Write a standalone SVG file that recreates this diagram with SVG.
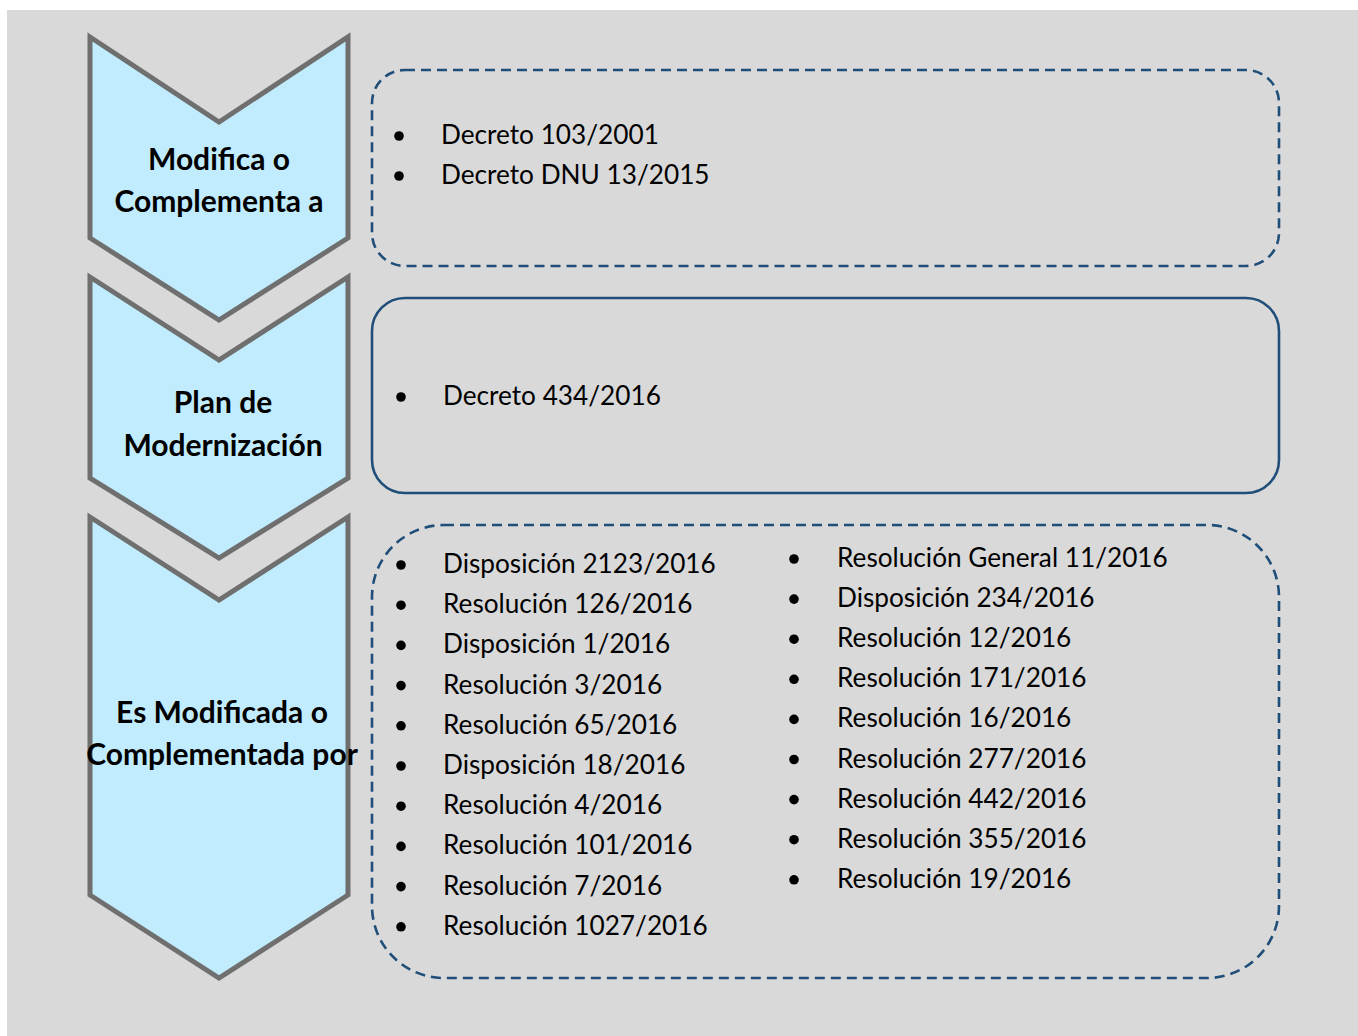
<svg xmlns="http://www.w3.org/2000/svg" width="1358" height="1036" viewBox="0 0 1358 1036">
<style>
.chev{fill:#c0ecfd;stroke:#6f6f6f;stroke-width:5;stroke-linejoin:miter}
.box{fill:none;stroke:#1f4e79;stroke-width:2.6}
.dash{stroke-dasharray:10 6}
.lbl{font-family:Lato,"Liberation Sans",sans-serif;font-weight:bold;font-size:30px;fill:#000;text-anchor:middle}
.it{font-family:Lato,"Liberation Sans",sans-serif;font-size:26.2px;fill:#000}
.bul{fill:#000}
</style>
<rect x="7" y="10" width="1351" height="1026" fill="#d9d9d9"/>
<g id="connectors"></g>
<g id="chevron1">
<polygon class="chev" points="90,37 219,122 348,37 348,238 219,320 90,238"/>
<text class="lbl" x="219" y="170">Modifica o</text>
<text class="lbl" x="219" y="212">Complementa a</text>
</g>
<g id="chevron2">
<polygon class="chev" points="90,277 219,360 348,277 348,478 219,558 90,478"/>
<text class="lbl" x="223" y="413">Plan de</text>
<text class="lbl" x="223" y="456">Modernización</text>
</g>
<g id="chevron3">
<polygon class="chev" points="90,517 219,600 348,517 348,895 219,978 90,895"/>
<text class="lbl" x="222" y="723">Es Modificada o</text>
<text class="lbl" x="222" y="765">Complementada por</text>
</g>
<g id="box1">
<rect class="box dash" x="372" y="70" width="907" height="196" rx="33" ry="33"/>
<circle class="bul" cx="399" cy="136" r="4.8"/>
<circle class="bul" cx="399" cy="176" r="4.8"/>
<text class="it" x="441" y="144">Decreto 103/2001</text>
<text class="it" x="441" y="184">Decreto DNU 13/2015</text>
</g>
<g id="box2">
<rect class="box" x="372" y="298" width="907" height="195" rx="33" ry="33"/>
<circle class="bul" cx="401" cy="397" r="4.8"/>
<text class="it" x="443" y="405">Decreto 434/2016</text>
</g>
<g id="box3">
<rect class="box dash" x="372" y="525" width="907" height="453" rx="72" ry="72"/>
<g class="bul">
<circle cx="401" cy="565" r="4.8"/>
<circle cx="401" cy="605.2" r="4.8"/>
<circle cx="401" cy="645.4" r="4.8"/>
<circle cx="401" cy="685.6" r="4.8"/>
<circle cx="401" cy="725.8" r="4.8"/>
<circle cx="401" cy="766" r="4.8"/>
<circle cx="401" cy="806.2" r="4.8"/>
<circle cx="401" cy="846.4" r="4.8"/>
<circle cx="401" cy="886.6" r="4.8"/>
<circle cx="401" cy="926.8" r="4.8"/>
<circle cx="794" cy="559" r="4.8"/>
<circle cx="794" cy="599.1" r="4.8"/>
<circle cx="794" cy="639.2" r="4.8"/>
<circle cx="794" cy="679.3" r="4.8"/>
<circle cx="794" cy="719.4" r="4.8"/>
<circle cx="794" cy="759.5" r="4.8"/>
<circle cx="794" cy="799.6" r="4.8"/>
<circle cx="794" cy="839.7" r="4.8"/>
<circle cx="794" cy="879.8" r="4.8"/>
</g>
<text class="it" x="443" y="573">Disposición 2123/2016</text>
<text class="it" x="443" y="613.2">Resolución 126/2016</text>
<text class="it" x="443" y="653.4">Disposición 1/2016</text>
<text class="it" x="443" y="693.6">Resolución 3/2016</text>
<text class="it" x="443" y="733.8">Resolución 65/2016</text>
<text class="it" x="443" y="774">Disposición 18/2016</text>
<text class="it" x="443" y="814.2">Resolución 4/2016</text>
<text class="it" x="443" y="854.4">Resolución 101/2016</text>
<text class="it" x="443" y="894.6">Resolución 7/2016</text>
<text class="it" x="443" y="934.8">Resolución 1027/2016</text>
<text class="it" x="837" y="567">Resolución General 11/2016</text>
<text class="it" x="837" y="607.1">Disposición 234/2016</text>
<text class="it" x="837" y="647.2">Resolución 12/2016</text>
<text class="it" x="837" y="687.3">Resolución 171/2016</text>
<text class="it" x="837" y="727.4">Resolución 16/2016</text>
<text class="it" x="837" y="767.5">Resolución 277/2016</text>
<text class="it" x="837" y="807.6">Resolución 442/2016</text>
<text class="it" x="837" y="847.7">Resolución 355/2016</text>
<text class="it" x="837" y="887.8">Resolución 19/2016</text>
</g>
</svg>
